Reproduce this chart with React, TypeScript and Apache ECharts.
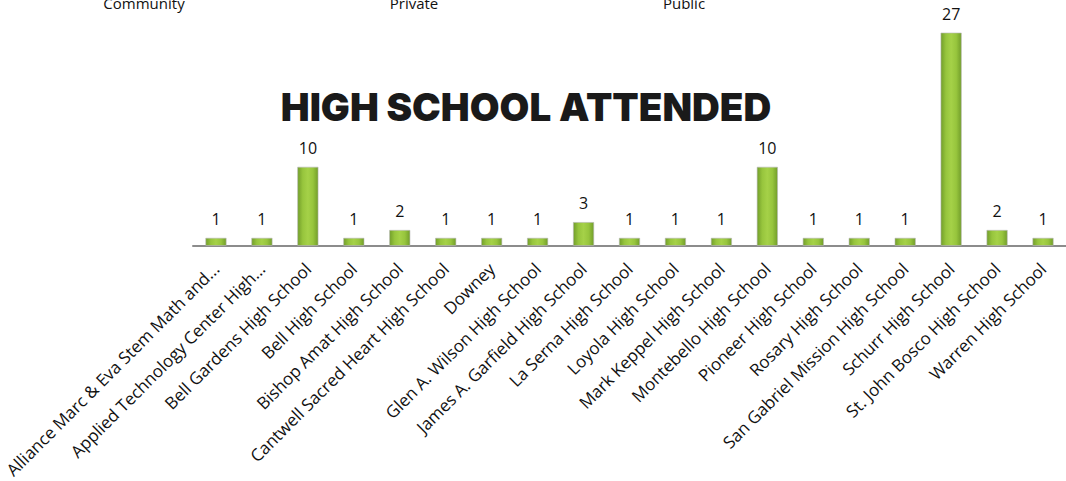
import React, { useEffect, useRef } from "react";
import * as echarts from "echarts";

const categories: string[] = [
  "Alliance Marc & Eva Stem Math and...",
  "Applied Technology Center High...",
  "Bell Gardens High School",
  "Bell High School",
  "Bishop Amat High School",
  "Cantwell Sacred Heart High School",
  "Downey",
  "Glen A. Wilson High School",
  "James A. Garfield High School",
  "La Serna High School",
  "Loyola High School",
  "Mark Keppel High School",
  "Montebello High School",
  "Pioneer High School",
  "Rosary High School",
  "San Gabriel Mission High School",
  "Schurr High School",
  "St. John Bosco High School",
  "Warren High School",
];

const counts: number[] = [1, 1, 10, 1, 2, 1, 1, 1, 3, 1, 1, 1, 10, 1, 1, 1, 27, 2, 1];

const legendNames: string[] = ["Community", "Private", "Public"];

const titleText = "HIGH SCHOOL ATTENDED";

export default function App() {
  const ref = useRef<HTMLDivElement>(null);
  useEffect(() => {
    if (!ref.current) return;
    const chart = echarts.init(ref.current, undefined, { renderer: "svg" });
    const font = "'Open Sans', Lato, sans-serif";
    const legendX = [144, 414, 684];
    chart.setOption({
      animation: false,
      backgroundColor: "#ffffff",
      graphic: [
        ...legendNames.map((n, i) => ({
          type: "text",
          x: legendX[i],
          y: 10,
          style: {
            text: n,
            fontFamily: font,
            fontSize: 15,
            fill: "#111",
            textAlign: "center",
            textVerticalAlign: "bottom",
          },
        })),
        {
          type: "text",
          x: 526,
          y: 107,
          style: {
            text: titleText,
            fontFamily: "Inter, 'DejaVu Sans', sans-serif",
            fontWeight: 900,
            fontSize: 38.5,
            fill: "#1a1a1a",
            textAlign: "center",
            textVerticalAlign: "middle",
          },
        },
      ],
      grid: { left: 193, top: 9, width: 885, height: 237, containLabel: false },
      xAxis: {
        type: "category",
        data: categories,
        axisLine: { show: true, lineStyle: { color: "#8c8c8c", width: 2 } },
        axisTick: { show: false },
        axisLabel: {
          interval: 0,
          rotate: 45,
          margin: 20,
          fontFamily: font,
          fontSize: 17,
          color: "#111",
        },
      },
      yAxis: {
        type: "value",
        min: 0,
        max: 30,
        show: false,
        splitLine: { show: false },
      },
      series: [
        {
          type: "bar",
          data: counts,
          barWidth: 21,
          itemStyle: {
            color: new echarts.graphic.LinearGradient(0, 0, 1, 0, [
              { offset: 0, color: "#729e2a" },
              { offset: 0.25, color: "#97c53d" },
              { offset: 0.5, color: "#a5d148" },
              { offset: 0.75, color: "#97c53d" },
              { offset: 1, color: "#729e2a" },
            ]),
            borderColor: "#b9b9b9",
            borderWidth: 0.6,
          },
          label: {
            show: true,
            position: "top",
            distance: 11,
            fontFamily: font,
            fontSize: 16,
            color: "#111",
          },
        },
      ],
    });
    return () => chart.dispose();
  }, []);
  return (
    <div
      ref={ref}
      style={{ position: "fixed", left: 0, top: 0, width: 1066, height: 481 }}
    />
  );
}
